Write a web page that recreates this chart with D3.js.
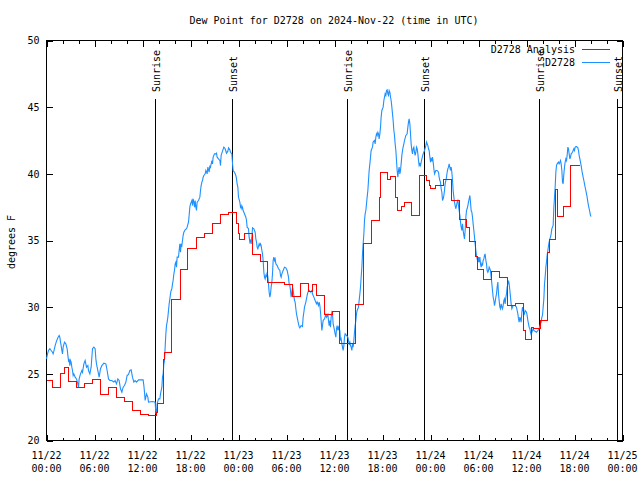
<!DOCTYPE html>
<html><head><meta charset="utf-8">
<script src="https://cdn.jsdelivr.net/npm/d3@7"></script>
<style>
body{margin:0;background:#fff}
svg text{font-family:"DejaVu Sans Mono",monospace;font-size:10px;fill:#000}
</style>
</head><body>
<svg id="c" width="640" height="480"></svg>
<script>
// hours since 2024-11-22 00:00 UTC
const analysis = [[0,24.5],[0.75,24.0],[1.7,25.0],[2.2,25.5],[2.7,24.4],[3.75,24.0],[4.7,24.25],[5.7,24.55],[6.7,23.45],[7.7,23.95],[8.7,23.25],[9.75,22.9],[10.75,22.25],[11.75,21.93],[12.7,21.85],[13.75,22.1],[13.9,22.8],[14.66,26.1],[14.8,26.6],[15.66,30.55],[16.75,32.8],[17.66,34.4],[18.75,35.2],[19.75,35.5],[20.75,36.25],[21.75,36.95],[22.75,37.1],[23.75,36.25],[24.0,35.55],[24.17,35.05],[24.75,35.5],[25.75,33.95],[26.75,33.4],[27.67,31.85],[29.75,31.7],[30.75,30.8],[31.75,31.75],[32.75,31.2],[33.25,31.7],[33.75,30.85],[34.75,29.45],[35.75,29.65],[36.67,27.25],[38.67,30.2],[39.67,34.75],[40.67,36.5],[41.58,38.25],[41.75,40.1],[42.58,39.55],[43.0,39.8],[43.67,38.25],[43.9,37.25],[44.33,37.55],[44.75,37.85],[45.67,36.85],[46.58,39.85],[47.5,39.5],[47.9,39.1],[48.0,38.9],[48.67,39.1],[49.67,39.55],[50.67,38.0],[51.67,36.6],[52.5,36.0],[52.83,34.9],[53.67,33.8],[53.92,32.8],[54.67,32.08],[55.58,32.7],[56.58,32.25],[57.58,30.15],[58.67,30.3],[59.58,28.25],[59.9,27.55],[60.58,28.5],[60.83,28.4],[61.75,29.0],[62.58,34.1],[62.92,35.1],[63.58,38.8],[63.83,36.8],[64.58,37.55],[65.5,40.6],[66.67,40.6]];

const observed = [[0,26.12],[0.125,26.5],[0.25,26.75],[0.42,26.88],[0.58,26.75],[0.75,26.62],[0.83,26.5],[0.92,26.7],[1.08,27.12],[1.25,27.45],[1.42,27.7],[1.58,27.88],[1.67,27.75],[1.75,27.38],[1.83,27.12],[1.92,26.75],[2.0,26.5],[2.08,27.0],[2.25,27.38],[2.42,27.25],[2.58,26.88],[2.67,26.38],[2.75,26.0],[2.83,26.12],[2.92,25.62],[3.0,26.0],[3.08,25.88],[3.17,25.5],[3.25,25.25],[3.33,24.88],[3.42,25.0],[3.58,24.75],[3.75,24.62],[3.92,24.25],[4.0,24.0],[4.08,24.62],[4.25,25.0],[4.42,25.25],[4.5,25.12],[4.67,25.75],[4.83,26.0],[5.0,25.5],[5.17,25.62],[5.25,25.25],[5.42,25.0],[5.58,25.5],[5.67,26.25],[5.75,26.88],[5.92,27.0],[6.08,26.88],[6.17,26.12],[6.25,25.75],[6.33,25.5],[6.5,25.0],[6.58,24.75],[6.75,25.38],[6.92,25.62],[7.17,25.8],[7.42,25.75],[7.58,25.25],[7.75,24.62],[7.92,24.5],[8.17,24.5],[8.42,24.38],[8.58,24.5],[8.75,24.25],[8.92,24.62],[9.08,24.5],[9.25,23.88],[9.42,23.62],[9.58,24.0],[9.75,24.12],[9.92,24.38],[10.08,24.88],[10.25,24.95],[10.42,25.25],[10.58,25.3],[10.75,24.75],[10.92,24.38],[11.08,24.5],[11.25,24.38],[11.5,24.55],[12.08,24.55],[12.17,24.12],[12.25,23.62],[12.33,23.0],[12.5,23.5],[12.67,23.25],[12.75,22.88],[13.25,22.92],
[13.58,22.88],[13.67,22.0],[13.75,22.13],[13.83,22.75],[14.0,23.12],[14.17,23.12],[14.25,23.5],[14.42,24.0],[14.5,24.75],[14.58,25.0],[14.67,25.75],[14.75,26.0],[14.83,27.0],[14.92,28.0],[15.0,28.62],[15.08,28.88],[15.17,29.25],[15.25,29.75],[15.33,30.25],[15.42,30.62],[15.5,31.0],[15.58,31.25],[15.67,31.38],[15.75,31.75],[15.83,32.0],[15.92,32.5],[16.0,32.75],[16.08,33.25],[16.17,33.38],[16.25,33.0],[16.33,33.75],[16.5,33.75],[16.58,34.25],[16.67,34.75],[16.75,34.12],[16.83,34.75],[16.92,34.62],[17.0,35.0],[17.08,35.38],[17.17,35.62],[17.33,35.8],[17.5,35.88],[17.58,36.0],[17.75,36.38],[17.83,36.88],[17.92,37.5],[18.0,37.75],[18.17,38.0],[18.25,37.62],[18.33,38.12],[18.42,37.88],[18.5,37.5],[18.58,38.0],[18.67,37.5],[18.75,37.25],[18.83,37.88],[19.0,38.0],[19.08,38.12],[19.17,38.25],[19.25,38.75],[19.33,39.12],[19.42,39.38],[19.5,39.5],[19.58,39.75],[19.67,39.88],[19.83,40.0],[19.92,40.25],[20.08,40.0],[20.17,40.5],[20.33,40.12],[20.42,40.62],[20.5,40.5],[20.67,41.0],[20.75,40.75],[20.83,41.25],[21.0,41.5],[21.17,41.5],[21.25,41.55],[21.33,41.25],[21.5,41.12],[21.67,41.0],[21.75,40.62],[21.83,41.38],[22.0,41.7],[22.17,42.0],[22.33,41.88],[22.5,41.55],[22.67,41.7],[22.75,41.95],[22.92,41.8],[23.0,41.62],[23.17,41.5],[23.25,40.8],[23.33,40.25],[23.5,40.12],[23.67,39.88],[23.75,39.62],[23.83,39.25],[23.92,39.0],
[24.0,38.25],[24.17,37.88],[24.25,37.5],[24.33,37.62],[24.42,37.38],[24.5,37.5],[24.58,37.25],[24.67,37.12],[24.83,36.88],[24.92,36.75],[25.0,36.5],[25.08,36.0],[25.25,35.88],[25.33,35.25],[25.42,34.88],[25.5,35.0],[25.58,34.75],[25.67,35.25],[25.75,35.95],[25.92,35.88],[26.08,35.62],[26.17,35.12],[26.25,34.88],[26.33,34.5],[26.42,34.38],[26.58,34.75],[26.67,34.62],[26.75,34.75],[26.83,34.62],[26.92,34.25],[27.0,34.0],[27.08,33.5],[27.17,32.62],[27.25,32.25],[27.33,32.12],[27.42,32.38],[27.5,32.25],[27.58,32.62],[27.67,32.25],[27.75,31.75],[27.83,31.12],[27.92,30.75],[28.0,31.0],[28.08,31.5],[28.17,31.88],[28.25,32.5],[28.33,33.5],[28.42,33.75],[28.5,33.5],[28.58,33.62],[28.67,33.25],[28.83,33.12],[29.0,32.88],[29.17,32.75],[29.25,32.38],[29.33,32.25],[29.42,32.5],[29.58,32.75],[29.75,33.0],[29.92,32.95],[30.08,32.75],[30.25,32.25],[30.33,31.75],[30.42,31.62],[30.5,31.25],[30.58,30.75],[30.67,31.12],[30.75,31.5],[30.83,31.25],[30.92,30.88],[31.0,30.5],[31.08,30.38],[31.17,29.88],[31.25,29.5],[31.33,29.25],[31.5,28.75],[31.58,28.55],[31.67,28.45],[31.83,28.62],[32.0,28.55],[32.08,29.25],[32.17,29.62],[32.25,30.0],[32.42,30.38],[32.58,30.88],[32.67,31.12],[32.83,31.25],[33.0,31.12],[33.17,31.25],[33.25,31.0],[33.42,30.75],[33.58,30.5],[33.75,30.25],[33.83,30.38],[34.0,30.12],[34.08,30.38],[34.17,30.12],[34.25,29.62],[34.33,29.0],[34.42,28.25],[34.5,28.62],[34.58,29.0],[34.75,29.12],[34.92,29.45],[35.0,29.25],[35.17,29.45],[35.25,29.0],[35.33,28.62],[35.42,29.0],[35.5,28.5],
[35.58,29.25],[35.67,29.62],[35.75,29.5],[35.83,28.75],[35.92,28.5],[36.08,28.0],[36.17,27.75],[36.25,28.38],[36.33,28.62],[36.42,28.25],[36.5,28.5],[36.67,28.25],[36.75,27.5],[36.83,27.62],[36.92,27.25],[37.0,27.0],[37.08,26.75],[37.17,27.12],[37.25,27.75],[37.33,28.0],[37.5,27.88],[37.67,27.75],[37.75,27.5],[37.83,27.25],[37.92,27.38],[38.0,27.12],[38.08,27.0],[38.17,26.75],[38.25,27.25],[38.33,27.0],[38.42,27.5],[38.5,28.12],[38.58,28.62],[38.67,29.0],[38.75,29.5],[38.83,29.75],[39.0,30.0],[39.08,30.5],[39.17,31.0],[39.25,31.5],[39.33,32.25],[39.42,33.0],[39.5,34.0],[39.58,34.75],[39.67,35.5],[39.75,36.5],[39.83,37.0],[39.92,37.25],[40.0,37.75],[40.08,38.25],[40.17,38.75],[40.25,39.5],[40.33,40.25],[40.42,40.75],[40.5,41.25],[40.58,41.75],[40.75,42.0],[40.83,42.38],[41.0,42.5],[41.08,42.25],[41.17,42.75],[41.25,43.0],[41.33,42.88],[41.42,43.12],[41.5,43.0],[41.58,42.62],[41.67,43.0],[41.75,43.5],[41.83,44.25],[41.92,44.75],[42.0,44.88],[42.08,45.0],[42.17,45.5],[42.25,45.75],[42.33,46.0],[42.42,45.88],[42.5,46.25],[42.58,46.3],[42.67,46.0],[42.75,45.88],[42.83,46.25],[42.92,46.12],[43.0,45.75],[43.08,45.5],[43.17,45.0],[43.25,44.5],[43.33,44.0],[43.42,43.25],[43.5,42.88],[43.58,42.25],[43.67,41.75],[43.75,41.0],[43.83,40.25],[43.92,39.75],[44.0,40.25],[44.08,40.5],[44.17,40.0],[44.25,40.25],[44.33,40.75],[44.42,41.38],[44.5,41.75],[44.58,42.0],[44.67,42.25],[44.75,42.5],[44.92,42.88],[45.08,43.0],[45.17,43.5],[45.25,43.88],[45.33,44.12],[45.42,43.75],[45.5,43.0],[45.58,42.25],[45.67,41.75],[45.75,41.5],[45.83,41.88],[45.92,42.0],[46.0,41.62],[46.08,41.38],[46.17,41.62],[46.25,42.0],[46.33,41.88],[46.42,41.5],[46.5,41.0],[46.58,40.62],[46.67,40.75],
[46.75,40.62],[46.92,41.12],[47.08,41.5],[47.25,41.75],[47.42,42.12],[47.5,42.38],[47.58,42.25],[47.67,42.12],[47.75,41.88],[47.83,41.75],[47.92,41.25],[48.0,40.88],[48.08,41.12],[48.17,41.0],[48.25,41.25],[48.33,40.88],[48.42,40.38],[48.5,40.0],[48.58,40.12],[48.67,40.25],[48.83,40.25],[49.0,40.12],[49.08,39.75],[49.17,39.5],[49.25,39.38],[49.33,38.88],[49.42,38.62],[49.5,38.0],[49.58,38.12],[49.67,38.38],[49.75,38.75],[49.83,39.25],[49.92,39.5],[50.0,39.75],[50.08,40.12],[50.17,40.38],[50.25,40.5],[50.33,40.75],[50.42,40.5],[50.5,40.25],[50.58,40.5],[50.67,40.12],[50.75,39.5],[50.83,38.75],[50.92,38.25],[51.0,37.88],[51.08,37.62],[51.17,37.38],[51.25,37.62],[51.33,37.88],[51.42,38.0],[51.5,37.62],[51.58,37.25],[51.67,36.88],[51.75,36.38],[51.83,36.0],[51.92,35.75],[52.0,36.25],[52.08,35.75],[52.17,35.38],[52.25,35.12],[52.33,35.75],[52.42,36.75],[52.5,37.25],[52.58,37.38],[52.67,37.62],[52.75,37.88],[52.83,38.12],[52.92,38.38],[53.0,37.88],[53.08,37.25],[53.17,37.12],[53.25,36.75],[53.33,36.25],[53.42,35.75],[53.5,35.25],[53.58,34.75],[53.67,34.25],[53.75,33.88],[53.83,33.62],[53.92,33.38],[54.0,33.75],[54.08,33.38],[54.17,33.75],[54.25,33.25],[54.33,33.0],[54.42,33.25],[54.5,33.12],[54.58,33.5],[54.67,33.62],[54.75,33.88],[54.83,34.0],[54.92,33.5],[55.0,33.25],[55.08,32.75],[55.17,32.62],[55.25,32.75],[55.33,33.0],[55.42,32.88],[55.5,32.75],[55.58,32.25],[55.67,31.75],[55.75,31.25],[55.83,30.75],[55.92,30.5],[56.0,30.12],[56.08,30.38],[56.17,30.75],[56.25,31.0],[56.33,31.5],[56.42,31.88],[56.5,31.0],[56.58,30.5],[56.67,30.0],[56.75,29.88],[56.83,30.25],[56.92,30.0],[57.0,29.88],[57.08,30.12],[57.17,30.5],[57.25,30.62],[57.33,30.25],[57.42,30.75],[57.5,31.0],[57.58,31.5],[57.67,31.75],[57.75,32.0],[57.83,31.75],[57.92,31.25],[58.0,30.75],[58.08,30.25],[58.17,29.88],[58.25,30.0],[58.33,30.12],[58.58,30.12],[58.75,30.0],[58.83,29.75],[58.92,29.5],[59.0,29.12],[59.08,28.88],[59.17,29.25],
[59.25,29.12],[59.33,28.88],[59.42,29.62],[59.5,30.0],[59.58,29.75],[59.75,29.5],[59.83,29.75],[60.0,29.62],[60.08,29.38],[60.17,29.0],[60.25,28.75],[60.33,28.5],[60.42,28.38],[60.5,28.12],[60.58,27.95],[60.67,28.12],[60.75,28.25],[60.83,28.38],[60.92,28.25],[61.25,28.12],[61.42,28.25],[61.58,28.38],[61.75,28.75],[61.83,28.88],[61.92,29.25],[62.0,29.38],[62.08,30.0],[62.17,30.62],[62.25,31.75],[62.33,32.25],[62.42,33.0],[62.5,33.38],[62.58,33.88],[62.67,34.25],[62.75,34.62],[62.83,34.88],[62.92,35.12],[63.0,35.25],[63.08,35.5],[63.17,35.88],[63.25,36.0],[63.33,36.12],[63.42,37.5],[63.5,38.25],[63.58,39.0],[63.67,40.12],[63.75,40.62],[63.83,40.75],[64.0,40.88],[64.08,40.75],[64.17,40.88],[64.25,41.0],[64.33,40.75],[64.42,40.25],[64.5,39.38],[64.58,39.25],[64.67,40.0],[64.75,40.5],[64.83,40.88],[64.92,41.12],[65.0,41.0],[65.08,41.38],[65.17,42.0],[65.25,41.88],[65.33,41.5],[65.42,41.12],[65.5,41.25],[65.58,41.5],[65.75,41.62],[65.83,41.75],[65.92,41.88],[66.0,41.75],[66.08,42.0],[66.17,42.05],[66.25,42.05],[66.33,42.0],[66.42,41.95],[66.5,41.75],[66.58,41.38],[66.67,41.12],[66.75,40.88],[66.83,40.62],[66.92,40.25],[67.0,40.0],[67.08,39.75],[67.17,39.5],[67.25,39.25],[67.33,39.0],[67.42,38.75],[67.5,38.5],[67.58,38.25],[67.67,37.88],[67.75,37.62],[67.83,37.38],[67.92,37.12],[68.0,36.88],[68.08,36.8]];

const sunTimes  = [13.66, 23.29, 37.66, 47.29, 61.6, 71.33];
const sunLabels = ["Sunrise","Sunset","Sunrise","Sunset","Sunrise","Sunset"];
const xTickHours  = [0,6,12,18,24,30,36,42,48,54,60,66,72];
const xTickLabels = [["11/22","00:00"],["11/22","06:00"],["11/22","12:00"],["11/22","18:00"],["11/23","00:00"],["11/23","06:00"],["11/23","12:00"],["11/23","18:00"],["11/24","00:00"],["11/24","06:00"],["11/24","12:00"],["11/24","18:00"],["11/25","00:00"]];
const yTicks = [20,25,30,35,40,45,50];
const seriesNames = ["D2728 Analysis","D2728"];
const seriesColors = ["#ff0000","#1e90ff"];
const title = "Dew Point for D2728 on 2024-Nov-22 (time in UTC)";
const yLabel = "degrees F";

const svg = d3.select("#c");
const L=46.5, R=622.5, T=40.5, B=440.5;
const x = d3.scaleLinear().domain([0,72]).range([L,R]);
const y = d3.scaleLinear().domain([20,50]).range([B,T]);
const snap = v => Math.round(v-0.5)+0.5;

const minorHours = d3.range(0,73,2).filter(h=>h%6!==0);

// bottom axis
const gB = svg.append("g").attr("transform",`translate(0,${B})`);
gB.call(d3.axisBottom(x).tickValues(xTickHours).tickSize(-6).tickSizeOuter(0).tickFormat(""));
gB.append("g").call(d3.axisBottom(x).tickValues(minorHours).tickSize(-3).tickSizeOuter(0).tickFormat(""));
xTickHours.forEach((h,i)=>{
  const t = gB.append("text").attr("x",x(h)).attr("text-anchor","middle");
  t.append("tspan").attr("x",x(h)).attr("y",18).text(xTickLabels[i][0]);
  t.append("tspan").attr("x",x(h)).attr("y",31).text(xTickLabels[i][1]);
});
// top axis (mirror)
const gT = svg.append("g").attr("transform",`translate(0,${T})`);
gT.call(d3.axisTop(x).tickValues(xTickHours).tickSize(-6).tickSizeOuter(0).tickFormat(""));
gT.append("g").call(d3.axisTop(x).tickValues(minorHours).tickSize(-3).tickSizeOuter(0).tickFormat(""));
// left axis
const gL = svg.append("g").attr("transform",`translate(${L},0)`);
gL.call(d3.axisLeft(y).tickValues(yTicks).tickSize(-6).tickSizeOuter(0).tickPadding(7).tickFormat(d3.format("d")));
// right axis
const gR = svg.append("g").attr("transform",`translate(${R},0)`);
gR.call(d3.axisRight(y).tickValues(yTicks).tickSize(-6).tickSizeOuter(0).tickFormat(""));

svg.selectAll(".domain").remove();
svg.selectAll(".tick line").attr("stroke","#000").attr("shape-rendering","crispEdges");
svg.selectAll(".tick text").attr("fill","#000").style("font-size","10px").style("font-family","'DejaVu Sans Mono',monospace");

// frame
svg.append("rect").attr("x",L).attr("y",T).attr("width",R-L).attr("height",B-T)
  .attr("fill","none").attr("stroke","#000").attr("shape-rendering","crispEdges");

// sunrise/sunset lines
sunTimes.forEach((h,i)=>{
  const px = snap(x(h));
  svg.append("line").attr("x1",px).attr("x2",px).attr("y1",99).attr("y2",B)
    .attr("stroke","#000").attr("shape-rendering","crispEdges");
  svg.append("text").attr("transform",`translate(${px+4},92) rotate(-90)`)
    .attr("text-anchor","start").text(sunLabels[i]);
});

// series
const stepLine = d3.line().x(d=>snap(x(d[0]))).y(d=>snap(y(d[1]))).curve(d3.curveStepAfter);
const plainLine = d3.line().x(d=>x(d[0])).y(d=>y(d[1]));
svg.append("path").datum(observed).attr("d",plainLine).attr("fill","none")
  .attr("stroke",seriesColors[1]).attr("stroke-width",1.1);
svg.append("path").datum(analysis).attr("d",stepLine).attr("fill","none")
  .attr("stroke",seriesColors[0]).attr("stroke-width",1).attr("shape-rendering","crispEdges");

// legend
seriesNames.forEach((n,i)=>{
  const yy = 49.5 + i*12.5;
  svg.append("text").attr("x",575).attr("y",yy+3.5).attr("text-anchor","end").text(n);
  svg.append("line").attr("x1",582).attr("x2",610).attr("y1",snap(yy)).attr("y2",snap(yy))
    .attr("stroke",seriesColors[i]).attr("stroke-width",1).attr("shape-rendering","crispEdges");
});

// title & y label
svg.append("text").attr("x",334).attr("y",23.5).attr("text-anchor","middle").text(title);
svg.append("text").attr("transform","translate(15,242) rotate(-90)").attr("text-anchor","middle").text(yLabel);
</script>
</body></html>
